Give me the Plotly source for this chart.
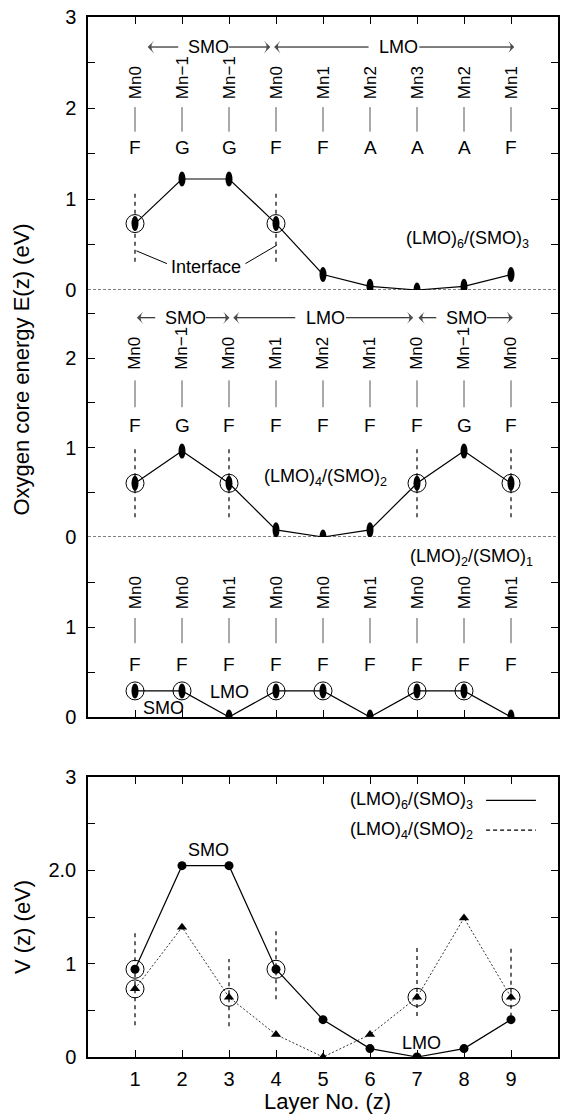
import plotly.graph_objects as go

# ---------------- data ----------------
layers = [1, 2, 3, 4, 5, 6, 7, 8, 9]

E_LMO6_SMO3 = [0.73, 1.22, 1.22, 0.73, 0.17, 0.04, 0.00, 0.04, 0.17]
E_LMO4_SMO2 = [0.60, 0.96, 0.60, 0.08, 0.00, 0.08, 0.60, 0.96, 0.60]
E_LMO2_SMO1 = [0.29, 0.29, 0.00, 0.29, 0.29, 0.00, 0.29, 0.29, 0.00]

V_LMO6_SMO3 = [0.94, 2.05, 2.05, 0.94, 0.40, 0.09, 0.00, 0.09, 0.40]
V_LMO4_SMO2 = [0.73, 1.39, 0.64, 0.24, 0.00, 0.24, 0.64, 1.49, 0.64]

mn_top = ["Mn0", "Mn\u22121", "Mn\u22121", "Mn0", "Mn1", "Mn2", "Mn3", "Mn2", "Mn1"]
mag_top = ["F", "G", "G", "F", "F", "A", "A", "A", "F"]
mn_mid = ["Mn0", "Mn\u22121", "Mn0", "Mn1", "Mn2", "Mn1", "Mn0", "Mn\u22121", "Mn0"]
mag_mid = ["F", "G", "F", "F", "F", "F", "F", "G", "F"]
mn_bot = ["Mn0", "Mn0", "Mn1", "Mn0", "Mn0", "Mn1", "Mn0", "Mn0", "Mn1"]
mag_bot = ["F", "F", "F", "F", "F", "F", "F", "F", "F"]

interface_top = [1, 4]
interface_mid = [1, 3, 7, 9]
interface_bot = [1, 2, 4, 5, 7, 8]
interface_V63 = [1, 4]
interface_V42 = [1, 3, 7, 9]

x_ticks = [1, 2, 3, 4, 5, 6, 7, 8, 9]

FONT = "Liberation Sans, Arial, sans-serif"
BLACK = "black"

fig = go.Figure()
shapes = []
annotations = []


def ann(text, x, y, xref, yref, size=18, **kw):
    d = dict(text=text, x=x, y=y, xref=xref, yref=yref, showarrow=False,
             font=dict(family=FONT, size=size, color=BLACK))
    d.update(kw)
    annotations.append(d)


def arrow_line(x0, x1, y, xa, ya):
    fig.add_trace(go.Scatter(x=[x0, x1], y=[y, y], xaxis=xa, yaxis=ya, mode="lines+markers",
                             line=dict(color=BLACK, width=1),
                             marker=dict(symbol=["circle", "arrow-wide"], size=[0, 9],
                                         angleref="previous", color=BLACK,
                                         line=dict(width=0)),
                             showlegend=False, hoverinfo="skip"))


# ---------------- upper panel: three stacked sections ----------------
sections = [
    dict(xa="x4", ya="y4", vals=E_LMO6_SMO3, mn=mn_top, mag=mag_top, itf=interface_top,
         mn_y=2.07, bar=(2.01, 1.74), mag_y=1.57, dash=(-0.42, 0.34), zero=True),
    dict(xa="x3", ya="y3", vals=E_LMO4_SMO2, mn=mn_mid, mag=mag_mid, itf=interface_mid,
         mn_y=1.84, bar=(1.75, 1.45), mag_y=1.25, dash=(-0.38, 0.39), zero=True),
    dict(xa="x2", ya="y2", vals=E_LMO2_SMO1, mn=mn_bot, mag=mag_bot, itf=interface_bot,
         mn_y=1.17, bar=(1.10, 0.82), mag_y=0.58, dash=None, zero=False),
]

for s in sections:
    xa, ya = s["xa"], s["ya"]
    if s["zero"]:
        fig.add_trace(go.Scatter(x=[0, 10], y=[0, 0], xaxis=xa, yaxis=ya, mode="lines",
                                 line=dict(color=BLACK, width=1, dash="3px,2px"),
                                 showlegend=False, hoverinfo="skip"))
    if s["dash"] is not None:
        gx, gy = [], []
        for k in s["itf"]:
            v = s["vals"][k - 1]
            gx += [k, k, None]
            gy += [v + s["dash"][0], v + s["dash"][1], None]
        fig.add_trace(go.Scatter(x=gx, y=gy, xaxis=xa, yaxis=ya, mode="lines",
                                 line=dict(color=BLACK, width=1.2, dash="4px,4px"),
                                 showlegend=False, hoverinfo="skip"))
    fig.add_trace(go.Scatter(x=layers, y=s["vals"], xaxis=xa, yaxis=ya, mode="lines+markers",
                             line=dict(color=BLACK, width=1.2),
                             marker=dict(symbol="circle", size=6, color=BLACK),
                             showlegend=False))
    fig.add_trace(go.Scatter(x=s["itf"], y=[s["vals"][k - 1] for k in s["itf"]],
                             xaxis=xa, yaxis=ya, mode="markers",
                             marker=dict(symbol="circle-open", size=18, color=BLACK,
                                         line=dict(color=BLACK, width=1)),
                             showlegend=False, hoverinfo="skip"))
    for xv, yv in zip(layers, s["vals"]):
        shapes.append(dict(type="circle", xref=xa, yref=ya, xsizemode="pixel", ysizemode="pixel",
                           xanchor=xv, yanchor=yv, x0=-3.5, x1=3.5, y0=-7.5, y1=7.5,
                           fillcolor=BLACK, line=dict(width=0)))
    bx, by = [], []
    for xv, mn, mg in zip(layers, s["mn"], s["mag"]):
        ann(mn, xv, s["mn_y"], xa, ya, size=17, textangle=-90, yanchor="bottom", xanchor="center")
        ann(mg, xv, s["mag_y"], xa, ya, size=19)
        bx += [xv, xv, None]
        by += [s["bar"][0], s["bar"][1], None]
    fig.add_trace(go.Scatter(x=bx, y=by, xaxis=xa, yaxis=ya, mode="lines",
                             line=dict(color="#555555", width=1),
                             showlegend=False, hoverinfo="skip"))

# region arrows (label, centre, left head, right head)
arrows_top = [("SMO", 2.56, 1.27, 3.88), ("LMO", 6.61, 3.96, 9.07)]
arrows_mid = [("SMO", 2.07, 1.04, 3.01), ("LMO", 5.05, 3.09, 6.92), ("SMO", 8.05, 7.03, 9.04)]
for arrows, xa, ya, yv in [(arrows_top, "x4", "y4", 2.67), (arrows_mid, "x3", "y3", 2.45)]:
    for lab, c, lh, rh in arrows:
        ann(lab, c, yv, xa, ya)
        hw = 0.44
        arrow_line(c - hw - 0.2, lh, yv, xa, ya)
        arrow_line(c + hw, rh, yv, xa, ya)

fig.add_trace(go.Scatter(x=[1.03, 1.68, None, 3.35, 4.01], y=[0.43, 0.29, None, 0.29, 0.49],
                         xaxis="x4", yaxis="y4", mode="lines",
                         line=dict(color=BLACK, width=1), showlegend=False, hoverinfo="skip"))
ann("Interface", 2.52, 0.25, "x4", "y4")
ann("(LMO)<sub>6</sub>/(SMO)<sub>3</sub>", 8.08, 0.55, "x4", "y4")
ann("(LMO)<sub>4</sub>/(SMO)<sub>2</sub>", 5.06, 0.67, "x3", "y3")
ann("(LMO)<sub>2</sub>/(SMO)<sub>1</sub>", 8.16, 1.77, "x2", "y2")
ann("LMO", 3.01, 0.28, "x2", "y2")
ann("SMO", 1.61, 0.10, "x2", "y2")

# ---------------- lower panel: V(z) ----------------
guides_V = [(1, 0.34, 1.35), (3, 0.33, 1.05), (4, 0.62, 1.35), (7, 0.44, 1.18), (9, 0.43, 1.18)]
gx, gy = [], []
for xv, lo, hi in guides_V:
    gx += [xv, xv, None]
    gy += [lo, hi, None]
fig.add_trace(go.Scatter(x=gx, y=gy, xaxis="x", yaxis="y", mode="lines",
                         line=dict(color=BLACK, width=1.2, dash="4px,4px"),
                         showlegend=False, hoverinfo="skip"))
fig.add_trace(go.Scatter(x=layers, y=V_LMO4_SMO2, xaxis="x", yaxis="y", mode="lines+markers",
                         line=dict(color="#333333", width=1, dash="2px,2px"),
                         marker=dict(symbol="triangle-up", size=9, color=BLACK),
                         name="(LMO)4/(SMO)2", showlegend=False))
fig.add_trace(go.Scatter(x=layers, y=V_LMO6_SMO3, xaxis="x", yaxis="y", mode="lines+markers",
                         line=dict(color=BLACK, width=1.2),
                         marker=dict(symbol="circle", size=9, color=BLACK),
                         name="(LMO)6/(SMO)3", showlegend=False))
ox = interface_V63 + interface_V42
oy = [V_LMO6_SMO3[k - 1] for k in interface_V63] + [V_LMO4_SMO2[k - 1] for k in interface_V42]
fig.add_trace(go.Scatter(x=ox, y=oy, xaxis="x", yaxis="y", mode="markers",
                         marker=dict(symbol="circle-open", size=18, color=BLACK,
                                     line=dict(color=BLACK, width=1)),
                         showlegend=False, hoverinfo="skip"))
ann("SMO", 2.56, 2.22, "x", "y")
ann("LMO", 7.1, 0.15, "x", "y")

legend_rows = [("(LMO)<sub>6</sub>/(SMO)<sub>3</sub>", 2.75, "solid"),
               ("(LMO)<sub>4</sub>/(SMO)<sub>2</sub>", 2.43, "4px,3px")]
for txt, yv, dsh in legend_rows:
    ann(txt, 8.24, yv, "x", "y", xanchor="right")
    shapes.append(dict(type="line", xref="x", yref="y", x0=8.47, x1=9.53, y0=yv, y1=yv,
                       line=dict(color=BLACK, width=1.2, dash=dsh)))

ann("Oxygen core energy E(z) (eV)", 0, 0.661, "paper", "paper", size=22,
    textangle=-90, xshift=-66, xanchor="center", yanchor="middle")
ann("V (z) (eV)", 0, 0.125, "paper", "paper", size=22, textangle=-90, xshift=-66,
    xanchor="center", yanchor="middle")
ann("Layer No. (z)", 0.51, 0, "paper", "paper", size=22, xanchor="center",
    yanchor="middle", yshift=-44)

# ---------------- axes ----------------
axline = dict(showline=True, linecolor=BLACK, linewidth=1.5, ticks="inside",
              ticklen=7, tickcolor=BLACK, tickwidth=1, showgrid=False, zeroline=False,
              tickfont=dict(family=FONT, size=20, color=BLACK))
minor = dict(ticks="inside", ticklen=7, tickcolor=BLACK, tickwidth=1, dtick=0.5, showgrid=False)

d_bot = (0.0, 0.26923)
d_s1 = (0.32692, 0.5)
d_s2 = (0.5, 0.7375)
d_s3 = (0.7375, 1.0)

fig.update_layout(
    width=561, height=1114,
    margin=dict(l=88, r=1, t=17, b=57),
    paper_bgcolor="white", plot_bgcolor="white",
    showlegend=False,
    font=dict(family=FONT, color=BLACK),
    xaxis=dict(axline, domain=[0, 1], range=[0, 10], anchor="y", mirror="ticks",
               tickvals=x_ticks, ticktext=[str(v) for v in x_ticks], ticklabelstandoff=3),
    yaxis=dict(axline, domain=list(d_bot), range=[0, 3], anchor="x", mirror="ticks",
               tickvals=[0, 1, 2, 3], ticktext=["0", "1", "2.0", "3"], ticklabelstandoff=6,
               minor=minor),
    xaxis2=dict(axline, domain=[0, 1], range=[0, 10], anchor="y2", linewidth=2,
                tickvals=x_ticks, showticklabels=False),
    yaxis2=dict(axline, domain=list(d_s1), range=[0, 2], anchor="x2", mirror="ticks",
                tickvals=[0, 1], ticklabelstandoff=6, minor=minor),
    xaxis3=dict(domain=[0, 1], range=[0, 10], anchor="y3", visible=False),
    yaxis3=dict(axline, domain=list(d_s2), range=[0, 2.76], anchor="x3", mirror="ticks",
                tickvals=[0, 1, 2], ticklabelstandoff=6, minor=minor),
    xaxis4=dict(axline, domain=[0, 1], range=[0, 10], anchor="y4", side="top",
                tickvals=x_ticks, showticklabels=False),
    yaxis4=dict(axline, domain=list(d_s3), range=[0, 3], anchor="x4", mirror="ticks",
                tickvals=[0, 1, 2, 3], ticklabelstandoff=6, minor=minor),
    shapes=shapes,
    annotations=annotations,
)

fig.write_html("out.html", config={"displayModeBar": False},
               post_script="document.body.style.margin='0';")
